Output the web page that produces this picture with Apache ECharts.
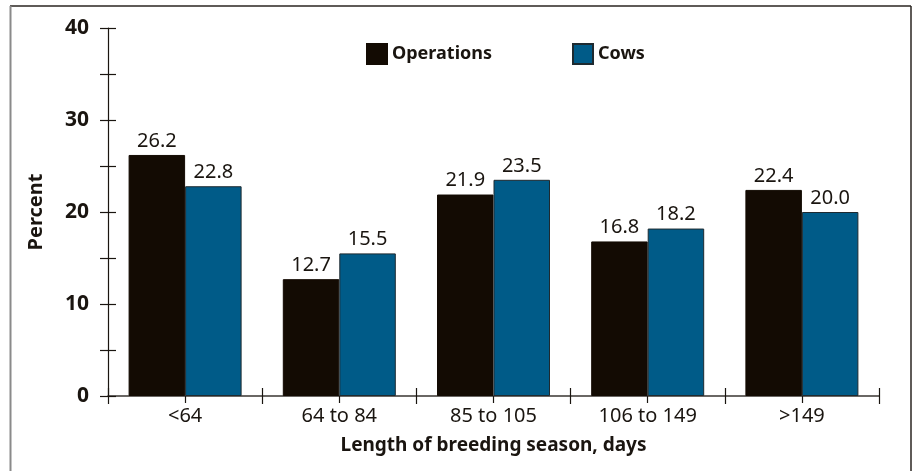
<!DOCTYPE html>
<html>
<head>
<meta charset="utf-8">
<script src="https://cdn.jsdelivr.net/npm/echarts@6/dist/echarts.min.js"></script>
<style>html,body{margin:0;padding:0;background:#fff;}#c{width:913px;height:471px;}</style>
</head>
<body>
<div id="c"></div>
<script>
const categories = ['<64', '64 to 84', '85 to 105', '106 to 149', '>149'];
const operations = [26.2, 12.7, 21.9, 16.8, 22.4];
const cows = [22.8, 15.5, 23.5, 18.2, 20.0];
const seriesNames = ['Operations', 'Cows'];
const yTicks = [0, 10, 20, 30, 40];

const FONT = 'Noto Sans';
const INK = '#1a1510';
const chart = echarts.init(document.getElementById('c'), null, {renderer: 'canvas'});

const catAxisBase = {
  type: 'category', data: categories, position: 'bottom', gridIndex: 0,
  axisLine: {show: false}, axisLabel: {show: false}, splitLine: {show: false}
};

chart.setOption({
  animation: false,
  backgroundColor: '#fff',
  textStyle: {fontFamily: FONT},
  graphic: [
    {type: 'line', shape: {x1: 10, y1: 6, x2: 911, y2: 6}, style: {stroke: '#2a2420', lineWidth: 1.5}},
    {type: 'line', shape: {x1: 911, y1: 6, x2: 911, y2: 471}, style: {stroke: '#2a2420', lineWidth: 1.5}},
    {type: 'line', shape: {x1: 10.5, y1: 6, x2: 10.5, y2: 471}, style: {stroke: '#8a8a8a', lineWidth: 2}}
  ],
  legend: {
    data: seriesNames,
    left: 366, top: 43, padding: 0,
    itemWidth: 20, itemHeight: 20, itemGap: 80,
    icon: 'rect',
    textStyle: {fontFamily: FONT, fontSize: 18, fontWeight: 'bold', color: INK}
  },
  grid: {left: 108, right: 34, top: 28, bottom: 75, containLabel: false},
  xAxis: [
    {
      type: 'category', data: categories, position: 'bottom',
      axisLine: {show: true, lineStyle: {color: '#3a3632', width: 1.5}},
      axisTick: {show: true, inside: false, length: 8, lineStyle: {color: INK, width: 1.2}},
      axisLabel: {show: true, margin: 10, fontFamily: FONT, fontSize: 20, color: INK},
      name: 'Length of breeding season, days',
      nameLocation: 'middle', nameGap: 40,
      nameTextStyle: {fontFamily: FONT, fontSize: 19, fontWeight: 'bold', color: INK}
    },
    Object.assign({}, catAxisBase, {
      axisTick: {show: true, inside: true, length: 8, lineStyle: {color: INK, width: 1.2}}
    }),
    Object.assign({}, catAxisBase, {
      axisTick: {show: true, inside: false, alignWithLabel: true, length: 7, lineStyle: {color: INK, width: 1.2}}
    })
  ],
  yAxis: [
    {
      type: 'value', min: 0, max: 40, interval: 5, position: 'left',
      axisLine: {show: true, lineStyle: {color: INK, width: 1.2}},
      axisTick: {show: true, inside: false, length: 8, lineStyle: {color: INK, width: 1.2}},
      axisLabel: {
        show: true, margin: 19, fontFamily: FONT, fontSize: 21, fontWeight: 'bold', color: INK,
        formatter: function (v) { return yTicks.indexOf(v) >= 0 ? String(v) : ''; }
      },
      splitLine: {show: false},
      name: 'Percent', nameLocation: 'middle', nameGap: 62, nameRotate: 90,
      nameTextStyle: {fontFamily: FONT, fontSize: 20, fontWeight: 'bold', color: INK}
    },
    {
      type: 'value', min: 0, max: 40, interval: 5, position: 'left',
      axisLine: {show: false},
      axisTick: {show: true, inside: true, length: 8, lineStyle: {color: INK, width: 1.2}},
      axisLabel: {show: false}, splitLine: {show: false}
    }
  ],
  series: [
    {
      name: seriesNames[0], type: 'bar', data: operations,
      xAxisIndex: 0, yAxisIndex: 0,
      barWidth: 56.5, barGap: '0%',
      itemStyle: {color: '#130b03', borderColor: '#130b03', borderWidth: 1},
      label: {show: true, position: 'top', distance: 4, fontFamily: FONT, fontSize: 20, color: INK,
        formatter: function (p) { return p.value.toFixed(1); }}
    },
    {
      name: seriesNames[1], type: 'bar', data: cows,
      xAxisIndex: 0, yAxisIndex: 0,
      barWidth: 56.5, barGap: '0%',
      itemStyle: {color: '#005b88', borderColor: '#1e2a30', borderWidth: 1},
      label: {show: true, position: 'top', distance: 4, fontFamily: FONT, fontSize: 20, color: INK,
        formatter: function (p) { return p.value.toFixed(1); }}
    }
  ]
});
</script>
</body>
</html>
